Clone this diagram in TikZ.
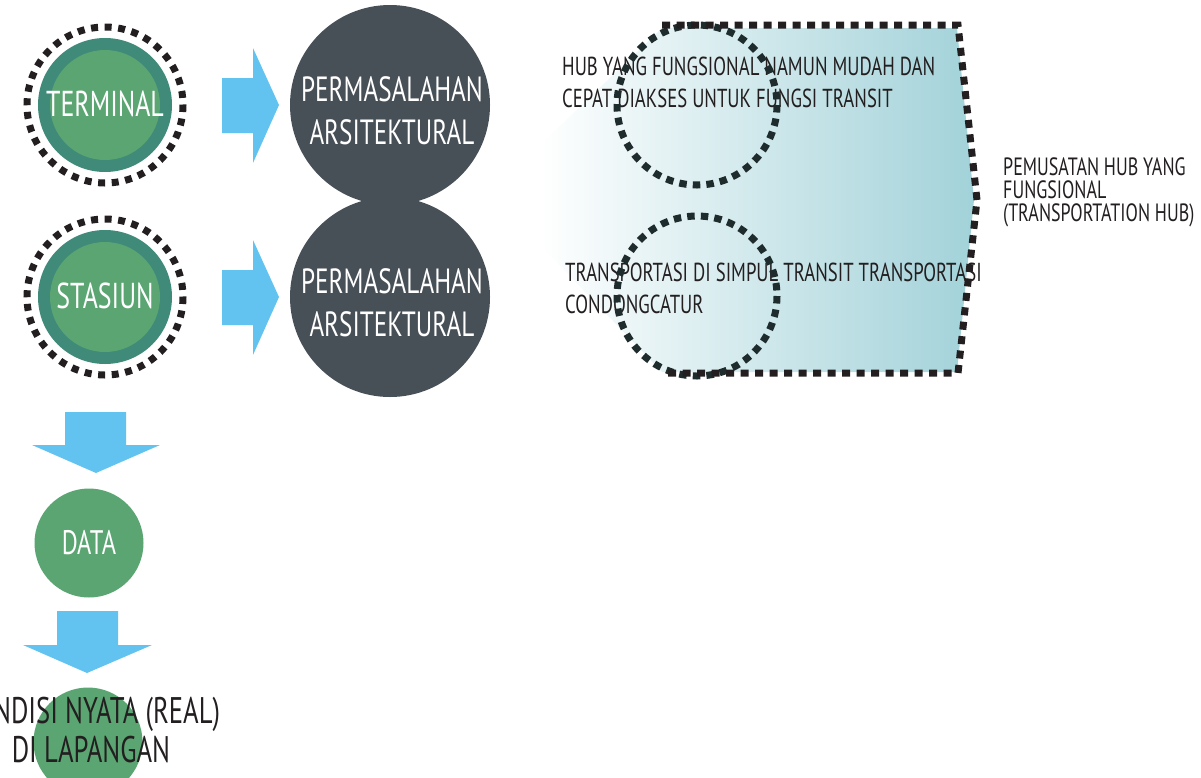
\documentclass[tikz,border=0pt]{standalone}
\usepackage{fontspec}
\setmainfont[FakeStretch=0.72]{PT Sans}
\definecolor{ringgreen}{HTML}{3F8A79}
\definecolor{innergreen}{HTML}{5AA571}
\definecolor{arrowblue}{HTML}{63C3F0}
\definecolor{darkc}{HTML}{474F57}
\definecolor{hubteal}{HTML}{A2D2D9}
\definecolor{ink}{HTML}{231F20}
\definecolor{dotink}{HTML}{1F2C2D}
\begin{document}
\begin{tikzpicture}[x=1pt,y=-1pt,
  ringnode/.style={circle, fill=ringgreen, minimum size=134, inner sep=0},
  dotring/.style={draw=ink, line width=7, dash pattern=on 7 off 6.6},
  darknode/.style={circle, fill=darkc, minimum size=200, inner sep=0},
  greennode/.style={circle, fill=innergreen, minimum size=109, inner sep=0},
  bigwhite/.style={text=white, font=\fontsize{36}{40}\selectfont, inner sep=0},
  permtxt/.style={text=white, font=\fontsize{35}{40}\selectfont, inner sep=0, anchor=base},
  hubtxt/.style={text=ink, font=\fontsize{26}{30}\selectfont, inner sep=0, anchor=base west},
  sidetxt/.style={text=ink, font=\fontsize{25}{28}\selectfont, inner sep=0, anchor=base west},
  bottxt/.style={text=ink, font=\fontsize{37}{40}\selectfont, inner sep=0, anchor=base},
  blockarrow/.style={fill=arrowblue},
  hubborder/.style={draw=ink, line width=7, dash pattern=on 8 off 6.5},
  hubcircle/.style={draw=dotink, line width=7, dash pattern=on 7.5 off 6.1}
]
\useasboundingbox (0,0) rectangle (1201,777);

% ---- left column: terminal / stasiun ----
\node[ringnode] (term) at (105,105) {};
\node[greennode, minimum size=110] (termin) at (term.center) {};
\draw[dotring] (term.center) circle (78);
\node[bigwhite] (termlbl) at (105,104) {TERMINAL};

\node[ringnode] (stas) at (105,297) {};
\node[greennode, minimum size=110] (stasin) at (stas.center) {};
\draw[dotring] (stas.center) circle (78);
\node[bigwhite] (staslbl) at (105,296) {STASIUN};

% ---- right block arrows ----
\fill[blockarrow] (222,78) -- (253,78) -- (253,48) -- (279,105) -- (253,163) -- (253,133) -- (222,133) -- cycle;
\fill[blockarrow] (222,270) -- (253,270) -- (253,240) -- (279,297) -- (253,355) -- (253,325) -- (222,325) -- cycle;

% ---- dark circles ----
\node[darknode] (perm1) at (390,105) {};
\node[darknode] (perm2) at (390,297) {};
\node[permtxt] (perm1a) at (392,101) {PERMASALAHAN};
\node[permtxt] (perm1b) at (392,144) {ARSITEKTURAL};
\node[permtxt] (perm2a) at (392,293) {PERMASALAHAN};
\node[permtxt] (perm2b) at (392,336) {ARSITEKTURAL};

% ---- hub region ----
\shade[left color=white, right color=hubteal]
  (662,28) -- (957,28) -- (974,200) -- (957,372) -- (662,372) -- (540,245) -- (540,145) -- cycle;
\node[hubtxt] (hub1a) at (562,75) {HUB YANG FUNGSIONAL NAMUN MUDAH DAN};
\node[hubtxt] (hub1b) at (562,107) {CEPAT DIAKSES UNTUK FUNGSI TRANSIT};
\node[hubtxt] (hub2a) at (565,281) {TRANSPORTASI DI SIMPUL TRANSIT TRANSPORTASI};
\node[hubtxt] (hub2b) at (565,313) {CONDONGCATUR};
\coordinate (hubc1) at (697,105);
\coordinate (hubc2) at (697,296);
\draw[hubcircle] (hubc1) circle (80);
\draw[hubcircle] (hubc2) circle (80);
\coordinate (hb1) at (662,25);
\coordinate (hb2) at (958,25);
\coordinate (hb3) at (977,200);
\coordinate (hb4) at (958,373);
\coordinate (hb5) at (662,373);
\draw[hubborder] (hb1) -- (hb2) -- (hb3) -- (hb4) -- (hb5);

\node[sidetxt] (side1) at (1003,175) {PEMUSATAN HUB YANG};
\node[sidetxt] (side2) at (1003,198) {FUNGSIONAL};
\node[sidetxt] (side3) at (1003,221) {(TRANSPORTATION HUB)};

% ---- vertical flow ----
\fill[blockarrow] (65,412) -- (126,412) -- (126,445) -- (160,445) -- (96,473) -- (32,445) -- (65,445) -- cycle;
\node[greennode] (data) at (89,543) {};
\node[bigwhite, font=\fontsize{34}{38}\selectfont] (datalbl) at (89,543) {DATA};
\fill[blockarrow] (57,611) -- (118,611) -- (118,645) -- (152,645) -- (87,673) -- (23,645) -- (57,645) -- cycle;
\node[greennode] (real) at (88,742) {};
\node[bottxt] (reala) at (90,723) {KONDISI NYATA (REAL)};
\node[bottxt] (realb) at (91,762) {DI LAPANGAN};
\end{tikzpicture}
\end{document}
